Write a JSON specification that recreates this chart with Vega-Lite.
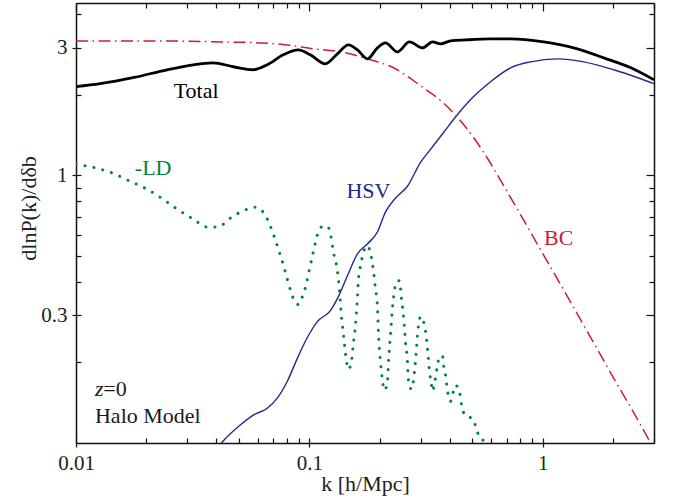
{
 "$schema": "https://vega.github.io/schema/vega-lite/v6.json",
 "width": 578, "height": 440,
 "autosize": "none",
 "padding": {"left": 76, "top": 3, "right": 19, "bottom": 56},
 "background": "white",
 "config": {
  "view": {"stroke": null},
  "font": "Liberation Serif",
  "axis": {"labelFont": "Liberation Serif", "titleFont": "Liberation Serif", "labelFontSize": 21, "titleFontSize": 22,
   "labelColor": "#222", "titleColor": "#222", "titleFontWeight": "normal", "domainColor": "#111", "domainWidth": 1.5,
   "tickColor": "#111", "tickWidth": 1.2, "grid": false, "labelFlush": false, "labelOverlap": false, "labelBound": false}
 },
 "datasets": {
  "curves": [
   {"series":"LD","k":0.01,"v":1.099},{"series":"LD","k":0.01231,"v":1.062},{"series":"LD","k":0.01441,"v":1.017},{"series":"LD","k":0.01705,"v":0.95},{"series":"LD","k":0.02017,"v":0.887},{"series":"LD","k":0.02362,"v":0.814},{"series":"LD","k":0.02714,"v":0.747},{"series":"LD","k":0.03178,"v":0.686},{"series":"LD","k":0.0365,"v":0.641},{"series":"LD","k":0.04029,"v":0.641},{"series":"LD","k":0.04719,"v":0.704},{"series":"LD","k":0.05418,"v":0.747},{"series":"LD","k":0.05865,"v":0.76},{"series":"LD","k":0.06347,"v":0.729},{"series":"LD","k":0.06801,"v":0.646},{"series":"LD","k":0.0729,"v":0.545},{"series":"LD","k":0.07508,"v":0.504},{"series":"LD","k":0.07889,"v":0.436},{"series":"LD","k":0.0829,"v":0.374},{"series":"LD","k":0.08541,"v":0.346},{"series":"LD","k":0.08972,"v":0.329},{"series":"LD","k":0.09333,"v":0.352},{"series":"LD","k":0.09612,"v":0.38},{"series":"LD","k":0.1,"v":0.443},{"series":"LD","k":0.104,"v":0.517},{"series":"LD","k":0.1082,"v":0.598},{"series":"LD","k":0.1126,"v":0.641},{"series":"LD","k":0.1195,"v":0.646},{"series":"LD","k":0.1231,"v":0.604},{"series":"LD","k":0.1268,"v":0.517},{"series":"LD","k":0.1319,"v":0.44},{"series":"LD","k":0.1345,"v":0.377},{"series":"LD","k":0.1372,"v":0.299},{"series":"LD","k":0.1399,"v":0.256},{"series":"LD","k":0.1441,"v":0.2034},{"series":"LD","k":0.1471,"v":0.1884},{"series":"LD","k":0.1515,"v":0.2017},{"series":"LD","k":0.1545,"v":0.235},{"series":"LD","k":0.1576,"v":0.275},{"series":"LD","k":0.1607,"v":0.346},{"series":"LD","k":0.1623,"v":0.404},{"series":"LD","k":0.1672,"v":0.475},{"series":"LD","k":0.1705,"v":0.517},{"series":"LD","k":0.1774,"v":0.545},{"series":"LD","k":0.1827,"v":0.513},{"series":"LD","k":0.1882,"v":0.44},{"series":"LD","k":0.192,"v":0.377},{"series":"LD","k":0.1958,"v":0.323},{"series":"LD","k":0.1978,"v":0.256},{"series":"LD","k":0.2017,"v":0.2017},{"series":"LD","k":0.2058,"v":0.1715},{"series":"LD","k":0.2098,"v":0.1574},{"series":"LD","k":0.2162,"v":0.17},{"series":"LD","k":0.2183,"v":0.1983},{"series":"LD","k":0.2226,"v":0.252},{"series":"LD","k":0.2271,"v":0.318},{"series":"LD","k":0.2316,"v":0.371},{"series":"LD","k":0.2362,"v":0.4},{"series":"LD","k":0.2433,"v":0.404},{"series":"LD","k":0.2481,"v":0.346},{"series":"LD","k":0.2531,"v":0.299},{"series":"LD","k":0.2582,"v":0.239},{"series":"LD","k":0.2633,"v":0.2017},{"series":"LD","k":0.2659,"v":0.1715},{"series":"LD","k":0.274,"v":0.1588},{"series":"LD","k":0.2795,"v":0.1715},{"series":"LD","k":0.285,"v":0.2017},{"series":"LD","k":0.2907,"v":0.252},{"series":"LD","k":0.2965,"v":0.291},{"series":"LD","k":0.3024,"v":0.297},{"series":"LD","k":0.3085,"v":0.284},{"series":"LD","k":0.3146,"v":0.263},{"series":"LD","k":0.3208,"v":0.225},{"series":"LD","k":0.3273,"v":0.1852},{"series":"LD","k":0.3338,"v":0.1643},{"series":"LD","k":0.3371,"v":0.1561},{"series":"LD","k":0.3438,"v":0.1671},{"series":"LD","k":0.3543,"v":0.195},{"series":"LD","k":0.3614,"v":0.211},{"series":"LD","k":0.3723,"v":0.211},{"series":"LD","k":0.376,"v":0.195},{"series":"LD","k":0.3835,"v":0.179},{"series":"LD","k":0.3911,"v":0.1561},{"series":"LD","k":0.4029,"v":0.1432},{"series":"LD","k":0.4109,"v":0.1521},{"series":"LD","k":0.4233,"v":0.1643},{"series":"LD","k":0.4404,"v":0.1547},{"series":"LD","k":0.4537,"v":0.1327},{"series":"LD","k":0.4766,"v":0.125},{"series":"LD","k":0.5008,"v":0.1239},{"series":"LD","k":0.5157,"v":0.1156},{"series":"LD","k":0.5313,"v":0.1071},{"series":"LD","k":0.5582,"v":0.1017},{"series":"LD","k":0.575,"v":0.097},
   {"series":"HSV","k":0.04,"v":0.095},{"series":"HSV","k":0.04274,"v":0.1017},{"series":"HSV","k":0.05057,"v":0.1167},{"series":"HSV","k":0.0575,"v":0.1271},{"series":"HSV","k":0.06602,"v":0.1349},{"series":"HSV","k":0.0729,"v":0.147},{"series":"HSV","k":0.08047,"v":0.17},{"series":"HSV","k":0.08882,"v":0.207},{"series":"HSV","k":0.09804,"v":0.2477},{"series":"HSV","k":0.1082,"v":0.2841},{"series":"HSV","k":0.1231,"v":0.3122},{"series":"HSV","k":0.1332,"v":0.352},{"series":"HSV","k":0.1456,"v":0.4212},{"series":"HSV","k":0.1607,"v":0.5085},{"series":"HSV","k":0.1774,"v":0.5541},{"series":"HSV","k":0.1958,"v":0.614},{"series":"HSV","k":0.2119,"v":0.7287},{"series":"HSV","k":0.2339,"v":0.8211},{"series":"HSV","k":0.2633,"v":0.9101},{"series":"HSV","k":0.2996,"v":1.118},{"series":"HSV","k":0.3306,"v":1.249},{"series":"HSV","k":0.376,"v":1.445},{"series":"HSV","k":0.4317,"v":1.686},{"series":"HSV","k":0.5057,"v":1.967},{"series":"HSV","k":0.5981,"v":2.236},{"series":"HSV","k":0.7291,"v":2.521},{"series":"HSV","k":0.8882,"v":2.653},{"series":"HSV","k":1.16,"v":2.722},{"series":"HSV","k":1.5,"v":2.653},{"series":"HSV","k":2.017,"v":2.478},{"series":"HSV","k":2.557,"v":2.314},{"series":"HSV","k":3.0,"v":2.198},
   {"series":"BC","k":0.01,"v":3.176},{"series":"BC","k":0.02078,"v":3.176},{"series":"BC","k":0.0415,"v":3.149},{"series":"BC","k":0.06163,"v":3.122},{"series":"BC","k":0.08047,"v":3.069},{"series":"BC","k":0.104,"v":2.966},{"series":"BC","k":0.1358,"v":2.891},{"series":"BC","k":0.1774,"v":2.722},{"series":"BC","k":0.2294,"v":2.521},{"series":"BC","k":0.2996,"v":2.16},{"series":"BC","k":0.376,"v":1.86},{"series":"BC","k":0.4581,"v":1.547},{"series":"BC","k":0.5582,"v":1.22},{"series":"BC","k":0.6801,"v":0.915},{"series":"BC","k":0.829,"v":0.68},{"series":"BC","k":0.9804,"v":0.526},{"series":"BC","k":1.195,"v":0.39},{"series":"BC","k":1.427,"v":0.297},{"series":"BC","k":1.689,"v":0.2294},{"series":"BC","k":2.017,"v":0.1744},{"series":"BC","k":2.434,"v":0.1315},{"series":"BC","k":2.823,"v":0.1044},{"series":"BC","k":2.95,"v":0.097},
   {"series":"Total","k":0.01,"v":2.142},{"series":"Total","k":0.01268,"v":2.198},{"series":"Total","k":0.01756,"v":2.314},{"series":"Total","k":0.02458,"v":2.478},{"series":"Total","k":0.03406,"v":2.608},{"series":"Total","k":0.03873,"v":2.631},{"series":"Total","k":0.04719,"v":2.543},{"series":"Total","k":0.0575,"v":2.478},{"series":"Total","k":0.06602,"v":2.587},{"series":"Total","k":0.07734,"v":2.818},{"series":"Total","k":0.08972,"v":2.941},{"series":"Total","k":0.101,"v":2.818},{"series":"Total","k":0.1171,"v":2.608},{"series":"Total","k":0.1319,"v":2.842},{"series":"Total","k":0.1471,"v":3.069},{"series":"Total","k":0.1607,"v":2.941},{"series":"Total","k":0.1774,"v":2.722},{"series":"Total","k":0.1958,"v":2.991},{"series":"Total","k":0.2119,"v":3.122},{"series":"Total","k":0.2386,"v":2.891},{"series":"Total","k":0.2686,"v":3.149},{"series":"Total","k":0.3055,"v":2.991},{"series":"Total","k":0.3371,"v":3.149},{"series":"Total","k":0.365,"v":3.095},{"series":"Total","k":0.4029,"v":3.176},{"series":"Total","k":0.4673,"v":3.203},{"series":"Total","k":0.5981,"v":3.231},{"series":"Total","k":0.7291,"v":3.231},{"series":"Total","k":1.01,"v":3.149},{"series":"Total","k":1.358,"v":2.991},{"series":"Total","k":1.827,"v":2.746},{"series":"Total","k":2.386,"v":2.521},{"series":"Total","k":3.0,"v":2.274}
  ],
  "labels": [
   {"text":"Total","series":"Total","k":0.03273,"v":2.07},
   {"text":"-LD","series":"LD","k":0.02141,"v":1.066},
   {"text":"HSV","series":"HSV","k":0.1792,"v":0.876},
   {"text":"BC","series":"BC","k":1.171,"v":0.583}
  ],
  "notes": [
   {"text":"=0","series":"note","k":0.0131,"v":0.1588},
   {"text":"Halo Model","series":"note","k":0.01206,"v":0.126}
  ],
  "italic": [
   {"text":"z","series":"note","k":0.01206,"v":0.1588}
  ]
 },
 "resolve": {"axis": {"x": "independent", "y": "independent"}},
 "layer": [
  {
   "data": {"name": "curves"},
   "transform": [{"filter": "datum.series == 'LD'"}],
   "mark": {"type": "line", "strokeDash": [0.1, 9], "strokeCap": "round", "strokeWidth": 3, "interpolate": "monotone", "clip": true},
   "encoding": {
    "x": {"field": "k", "type": "quantitative", "scale": {"type": "log", "domain": [0.01, 3], "nice": false},
     "axis": {"orient": "bottom", "values": [0.01, 0.1, 1], "format": "~g", "tickSize": 4,
      "labelPadding": 5, "title": "k [h/Mpc]", "titleX": 289, "titleY": 40, "titleBaseline": "middle", "titleAlign": "center"}},
    "y": {"field": "v", "type": "quantitative", "scale": {"type": "log", "domain": [0.1, 4.4], "nice": false},
     "axis": {"orient": "left", "values": [0.3, 1, 3], "format": "~g", "tickSize": 4,
      "labelPadding": 5, "title": "dlnP(k)/dδb", "titleX": -48, "titleY": 205, "titleBaseline": "middle", "titleAlign": "center", "titleAngle": -90}},
    "color": {"field": "series", "type": "nominal", "legend": null,
     "scale": {"domain": ["Total","LD","HSV","BC","note"], "range": ["#000000","#00843d","#25288f","#cc1f2f","#1a1a1a"]}}
   }
  },
  {
   "data": {"name": "curves"},
   "transform": [{"filter": "datum.series == 'HSV'"}],
   "mark": {"type": "line", "strokeWidth": 1.4, "interpolate": "monotone", "clip": true},
   "encoding": {
    "x": {"field": "k", "type": "quantitative", "scale": {"type": "log", "domain": [0.01, 3], "nice": false},
     "axis": {"orient": "bottom", "values": [0.01, 0.02,0.03,0.04,0.05,0.06,0.07,0.08,0.09,0.1,0.2,0.3,0.4,0.5,0.6,0.7,0.8,0.9,1,2,3], "labels": false, "title": null, "domain": false, "tickSize": -5}},
    "y": {"field": "v", "type": "quantitative", "scale": {"type": "log", "domain": [0.1, 4.4], "nice": false},
     "axis": {"orient": "left", "values": [0.2,0.3,0.4,0.5,0.6,0.7,0.8,0.9,1,2,3,4], "labels": false, "title": null, "domain": false, "tickSize": -5}},
    "color": {"field": "series", "type": "nominal", "legend": null}
   }
  },
  {
   "data": {"name": "curves"},
   "transform": [{"filter": "datum.series == 'BC'"}],
   "mark": {"type": "line", "strokeWidth": 1.5, "strokeDash": [12, 4.5, 1.5, 4.5], "interpolate": "monotone", "clip": true},
   "encoding": {
    "x": {"field": "k", "type": "quantitative", "scale": {"type": "log", "domain": [0.01, 3], "nice": false},
     "axis": {"orient": "top", "values": [0.02,0.03,0.04,0.05,0.06,0.07,0.08,0.09,0.2,0.3,0.4,0.5,0.6,0.7,0.8,0.9,2,3], "labels": false, "title": null, "domain": false, "tickSize": -5}},
    "y": {"field": "v", "type": "quantitative", "scale": {"type": "log", "domain": [0.1, 4.4], "nice": false},
     "axis": {"orient": "right", "values": [0.2,0.4,0.5,0.6,0.7,0.8,0.9,2,4], "labels": false, "title": null, "domain": false, "tickSize": -5}},
    "color": {"field": "series", "type": "nominal", "legend": null}
   }
  },
  {
   "data": {"name": "curves"},
   "transform": [{"filter": "datum.series == 'Total'"}],
   "mark": {"type": "line", "strokeWidth": 2.8, "interpolate": "monotone", "clip": true},
   "encoding": {
    "x": {"field": "k", "type": "quantitative", "scale": {"type": "log", "domain": [0.01, 3], "nice": false},
     "axis": {"orient": "top", "values": [0.01, 0.1, 1], "labels": false, "title": null, "tickSize": -8}},
    "y": {"field": "v", "type": "quantitative", "scale": {"type": "log", "domain": [0.1, 4.4], "nice": false},
     "axis": {"orient": "right", "values": [0.3, 1, 3], "labels": false, "title": null, "tickSize": -8}},
    "color": {"field": "series", "type": "nominal", "legend": null}
   }
  },
  {
   "data": {"name": "labels"},
   "mark": {"type": "text", "font": "Liberation Serif", "fontSize": 22, "align": "center", "baseline": "middle"},
   "encoding": {
    "x": {"field": "k", "type": "quantitative", "scale": {"type": "log", "domain": [0.01, 3], "nice": false}, "axis": null},
    "y": {"field": "v", "type": "quantitative", "scale": {"type": "log", "domain": [0.1, 4.4], "nice": false}, "axis": null},
    "text": {"field": "text"},
    "color": {"field": "series", "type": "nominal", "legend": null}
   }
  },
  {
   "data": {"name": "notes"},
   "mark": {"type": "text", "font": "Liberation Serif", "fontSize": 22, "align": "left", "baseline": "middle"},
   "encoding": {
    "x": {"field": "k", "type": "quantitative", "scale": {"type": "log", "domain": [0.01, 3], "nice": false}, "axis": null},
    "y": {"field": "v", "type": "quantitative", "scale": {"type": "log", "domain": [0.1, 4.4], "nice": false}, "axis": null},
    "text": {"field": "text"},
    "color": {"field": "series", "type": "nominal", "legend": null}
   }
  },
  {
   "data": {"name": "italic"},
   "mark": {"type": "text", "font": "Liberation Serif", "fontSize": 22, "fontStyle": "italic", "align": "left", "baseline": "middle"},
   "encoding": {
    "x": {"field": "k", "type": "quantitative", "scale": {"type": "log", "domain": [0.01, 3], "nice": false}, "axis": null},
    "y": {"field": "v", "type": "quantitative", "scale": {"type": "log", "domain": [0.1, 4.4], "nice": false}, "axis": null},
    "text": {"field": "text"},
    "color": {"field": "series", "type": "nominal", "legend": null}
   }
  }
 ]
}
